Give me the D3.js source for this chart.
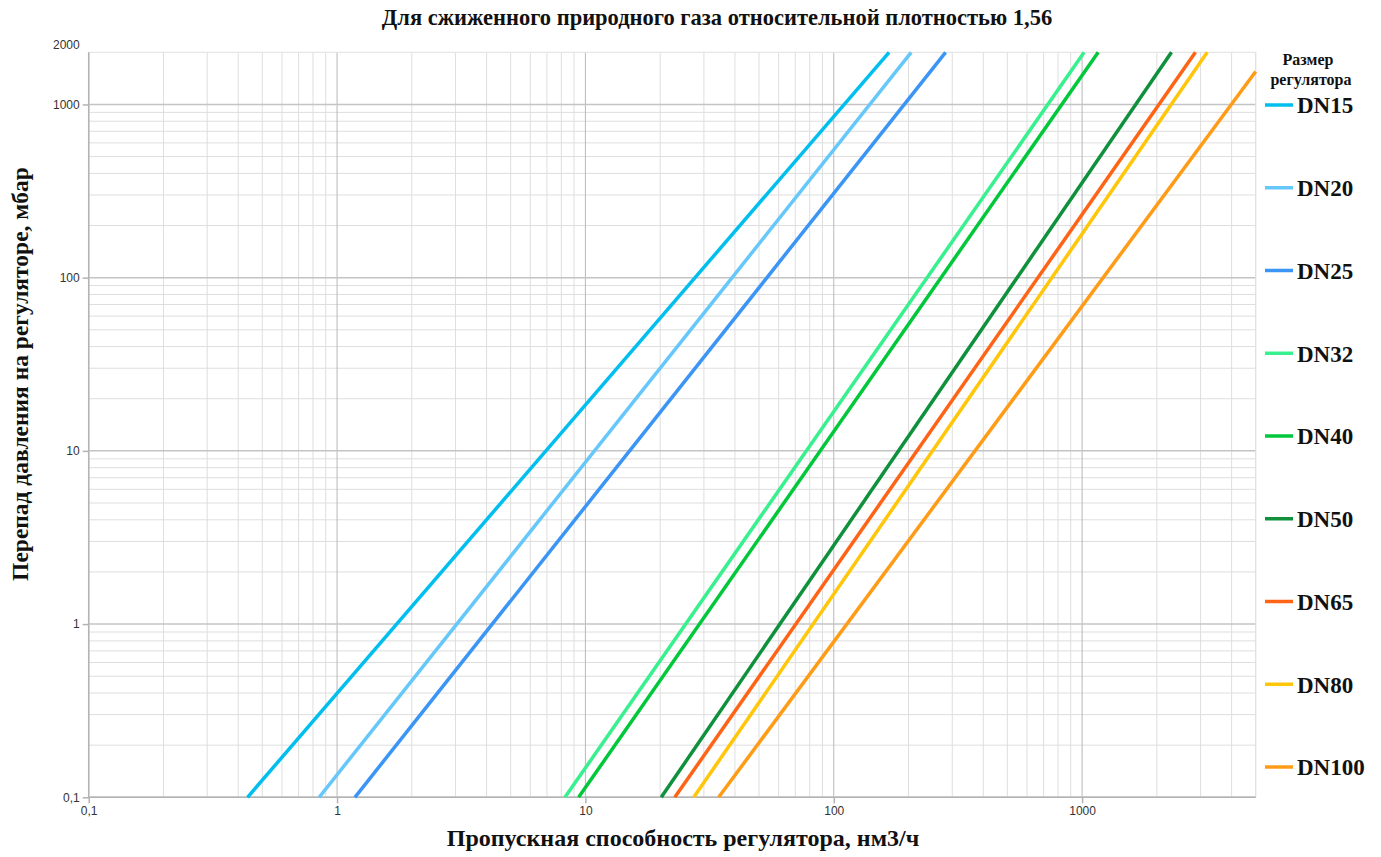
<!DOCTYPE html>
<html>
<head>
<meta charset="utf-8">
<script src="https://cdn.jsdelivr.net/npm/d3@7"></script>
<style>
  body { margin: 0; background: #fff; }
  .tick-label { font-family: "Liberation Sans", Arial, sans-serif; font-size: 12px; fill: #333; }
  .title { font-family: "Liberation Serif", "Times New Roman", serif; font-weight: bold; fill: #111; }
</style>
</head>
<body>
<svg id="chart" width="1381" height="857"></svg>
<script>
// regulator sizes and read-off line end points
const sizes = ["DN15", "DN20", "DN25", "DN32", "DN40", "DN50", "DN65", "DN80", "DN100"];
// flow (nm3/h) where each line starts, at the lowest pressure drop
const flowStart = [0.436, 0.847, 1.18, 8.27, 9.39, 20.2, 22.9, 27.3, 34.4];
// flow (nm3/h) where each line ends
const flowEnd = [167, 205, 282, 1019, 1161, 2290, 2860, 3190, 5000];
// pressure drop (mbar) at the start / end of each line
const dpStart = [0.1, 0.1, 0.1, 0.1, 0.1, 0.1, 0.1, 0.1, 0.1];
const dpEnd = [2000, 2000, 2000, 2000, 2000, 2000, 2000, 2000, 1550];

const xMajor = [0.1, 1, 10, 100, 1000];
const yMajor = [0.1, 1, 10, 100, 1000];

const palette = ["#00bfef", "#66c8fa", "#3b95f5", "#38f08e", "#00c83a", "#0f913c", "#ff6416", "#ffc60a", "#ff9c17"];

const svg = d3.select("#chart");
const plotL = 88.7, plotR = 1255.7, plotT = 52.3, plotB = 797.3;

const x = d3.scaleLog().domain([0.1, 5000]).range([plotL, plotR]);
const y = d3.scaleLog().domain([0.1, 2000]).range([plotB, plotT]);

const fmt = d3.formatLocale({decimal: ",", thousands: "", grouping: [3], currency: ["", ""]}).format("~g");
const isMajor = v => Math.abs(Math.log10(v) - Math.round(Math.log10(v))) < 1e-9;

// minor grid
const grid = svg.append("g");
grid.selectAll(".xminor").data(x.ticks().filter(v => !isMajor(v)))
    .enter().append("line")
    .attr("x1", d => x(d)).attr("x2", d => x(d))
    .attr("y1", plotT).attr("y2", plotB)
    .attr("stroke", "#dedede").attr("stroke-width", 1);
grid.selectAll(".yminor").data(y.ticks().filter(v => !isMajor(v) && v < 1000))
    .enter().append("line")
    .attr("x1", plotL).attr("x2", plotR)
    .attr("y1", d => y(d)).attr("y2", d => y(d))
    .attr("stroke", "#dedede").attr("stroke-width", 1);

// major grid
grid.selectAll(".xmajor").data(xMajor)
    .enter().append("line")
    .attr("x1", d => x(d)).attr("x2", d => x(d))
    .attr("y1", plotT).attr("y2", plotB)
    .attr("stroke", "#b8b8b8").attr("stroke-width", 1);
grid.selectAll(".ymajor").data(yMajor)
    .enter().append("line")
    .attr("x1", plotL).attr("x2", plotR)
    .attr("y1", d => y(d)).attr("y2", d => y(d))
    .attr("stroke", "#c4c4c4").attr("stroke-width", 1.5);

// frame
svg.append("rect")
    .attr("x", plotL).attr("y", plotT)
    .attr("width", plotR - plotL).attr("height", plotB - plotT)
    .attr("fill", "none").attr("stroke", "#e0e0e0");
svg.append("line").attr("x1", plotL).attr("x2", plotL).attr("y1", plotT).attr("y2", plotB)
    .attr("stroke", "#b3b3b3").attr("stroke-width", 1.5);
svg.append("line").attr("x1", plotL).attr("x2", plotR).attr("y1", plotB).attr("y2", plotB)
    .attr("stroke", "#b3b3b3").attr("stroke-width", 1.5);

// axes
const yAxis = d3.axisLeft(y).tickValues(yMajor).tickSize(6).tickPadding(3).tickFormat(fmt);
const yg = svg.append("g").attr("transform", `translate(${plotL},0)`).call(yAxis);
svg.append("text").attr("class", "tick-label")
    .attr("x", plotL - 9).attr("y", plotT - 7).attr("dy", "0.32em")
    .attr("text-anchor", "end").text(fmt(2000));

const xAxis = d3.axisBottom(x).tickValues(xMajor).tickSize(6).tickPadding(3).tickFormat(fmt);
const xg = svg.append("g").attr("transform", `translate(0,${plotB})`).call(xAxis);

[xg, yg].forEach(g => {
    g.select(".domain").remove();
    g.selectAll(".tick line").attr("stroke", "#b3b3b3").attr("stroke-width", 1.5);
    g.selectAll(".tick text").attr("class", "tick-label").attr("fill", null);
    g.attr("font-family", null).attr("font-size", null);
});

// regulator lines
const line = d3.line().x(d => x(d[0])).y(d => y(d[1]));
svg.append("g").selectAll("path").data(sizes)
    .enter().append("path")
    .attr("d", (d, i) => line([[flowStart[i], dpStart[i]], [flowEnd[i], dpEnd[i]]]))
    .attr("fill", "none")
    .attr("stroke", (d, i) => palette[i])
    .attr("stroke-width", 3.5);

// legend
const legend = svg.append("g");
legend.append("text").attr("class", "title")
    .attr("x", 1308).attr("y", 65).attr("text-anchor", "middle")
    .style("font-size", "16px").text("Размер");
legend.append("text").attr("class", "title")
    .attr("x", 1311).attr("y", 85).attr("text-anchor", "middle")
    .style("font-size", "16px").text("регулятора");
const item = legend.selectAll(".item").data(sizes)
    .enter().append("g")
    .attr("transform", (d, i) => `translate(0,${105 + i * 82.75})`);
item.append("line")
    .attr("x1", 1265).attr("x2", 1293)
    .attr("stroke", (d, i) => palette[i]).attr("stroke-width", 3.5);
item.append("text").attr("class", "title")
    .attr("x", 1297).attr("dy", "0.36em")
    .style("font-size", "23px").text(d => d);

// titles
svg.append("text").attr("class", "title")
    .attr("x", 717).attr("y", 25).attr("text-anchor", "middle")
    .style("font-size", "22.5px")
    .text("Для сжиженного природного газа относительной плотностью 1,56");
svg.append("text").attr("class", "title")
    .attr("x", 683).attr("y", 846).attr("text-anchor", "middle")
    .style("font-size", "24px")
    .text("Пропускная способность регулятора, нм3/ч");
svg.append("text").attr("class", "title")
    .attr("transform", "translate(28,374) rotate(-90)").attr("text-anchor", "middle")
    .style("font-size", "23.5px")
    .text("Перепад давления на регуляторе, мбар");
</script>
</body>
</html>
